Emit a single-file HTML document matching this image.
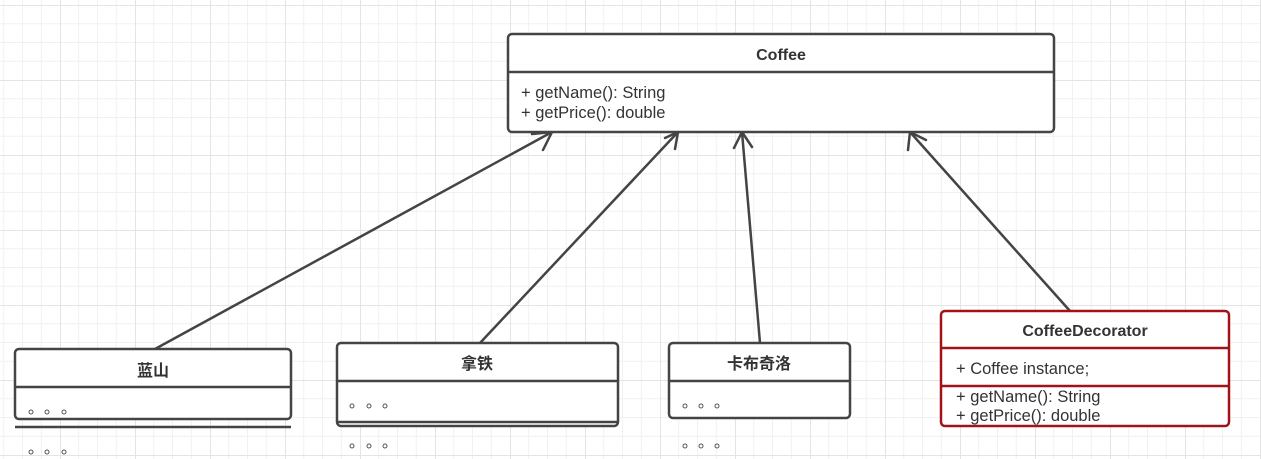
<!DOCTYPE html>
<html><head><meta charset="utf-8"><style>
html,body{margin:0;padding:0;background:#fff}
svg{display:block}
text{font-family:"Liberation Sans","Noto Sans CJK SC",sans-serif;fill:#333}
</style></head><body>
<svg width="1261" height="459" viewBox="0 0 1261 459" xmlns="http://www.w3.org/2000/svg">
<defs>
<pattern id="g" x="60" y="5" width="75" height="75" patternUnits="userSpaceOnUse">
<path d="M18.75 0V75M37.5 0V75M56.25 0V75M0 18.75H75M0 37.5H75M0 56.25H75" stroke="#f1f1f1" stroke-width="1" fill="none"/>
<path d="M0.5 0V75M0 0.5H75" stroke="#e4e4e4" stroke-width="1" fill="none"/>
</pattern>
</defs>
<rect width="1261" height="459" fill="url(#g)"/>
<g stroke="#444" stroke-width="2.5" fill="none" stroke-linecap="round">
<line x1="155" y1="349" x2="552" y2="132"/><polyline points="532,134 552,132 543,150"/>
<line x1="480" y1="343" x2="678" y2="132"/><polyline points="665,138 678,132 675,149"/>
<line x1="760" y1="343" x2="742" y2="132"/><polyline points="734,148 742,132 752,147"/>
<line x1="1070" y1="311" x2="910" y2="132"/><polyline points="908,150 910,132 926,140"/>
</g>
<g stroke="#444" stroke-width="2.5" fill="#fff">
<rect x="508" y="34" width="546" height="98" rx="4"/>
<line x1="508" y1="72" x2="1054" y2="72"/>
<rect x="15" y="349" width="276" height="70" rx="4"/>
<line x1="15" y1="387" x2="291" y2="387"/>
<line x1="15" y1="427" x2="291" y2="427"/>
<rect x="337" y="343" width="281" height="83" rx="4"/>
<line x1="337" y1="381" x2="618" y2="381"/>
<line x1="337" y1="422" x2="618" y2="422"/>
<rect x="669" y="343" width="181" height="75" rx="4"/>
<line x1="669" y1="381" x2="850" y2="381"/>
</g>
<g stroke="#a01418" stroke-width="2.5" fill="#fff">
<rect x="941" y="311" width="288" height="115" rx="4"/>
<line x1="941" y1="348" x2="1229" y2="348"/>
<line x1="941" y1="386" x2="1229" y2="386"/>
</g>
<text x="781" y="60" font-size="16" font-weight="bold" text-anchor="middle">Coffee</text>
<text x="521" y="98" font-size="16.5">+ getName(): String</text>
<text x="521" y="118" font-size="16.5">+ getPrice(): double</text>
<text x="153" y="376" font-size="16" font-weight="bold" text-anchor="middle">蓝山</text>
<text x="477" y="369" font-size="16" font-weight="bold" text-anchor="middle">拿铁</text>
<text x="759" y="369" font-size="16" font-weight="bold" text-anchor="middle">卡布奇洛</text>
<text x="1085" y="336" font-size="16" font-weight="bold" text-anchor="middle">CoffeeDecorator</text>
<text x="956" y="374" font-size="16.5">+ Coffee instance;</text>
<text x="956" y="402" font-size="16.5">+ getName(): String</text>
<text x="956" y="421" font-size="16.5">+ getPrice(): double</text>
<g stroke="#555" stroke-width="1" fill="none">
<circle cx="31" cy="412" r="2"/><circle cx="47" cy="412" r="2"/><circle cx="64" cy="412" r="2"/>
<circle cx="31" cy="452" r="2"/><circle cx="47" cy="452" r="2"/><circle cx="64" cy="452" r="2"/>
<circle cx="352" cy="406" r="2"/><circle cx="369" cy="406" r="2"/><circle cx="385" cy="406" r="2"/>
<circle cx="352" cy="446" r="2"/><circle cx="369" cy="446" r="2"/><circle cx="385" cy="446" r="2"/>
<circle cx="685" cy="406" r="2"/><circle cx="701" cy="406" r="2"/><circle cx="717" cy="406" r="2"/>
<circle cx="685" cy="446" r="2"/><circle cx="701" cy="446" r="2"/><circle cx="717" cy="446" r="2"/>
</g>
</svg>
</body></html>
